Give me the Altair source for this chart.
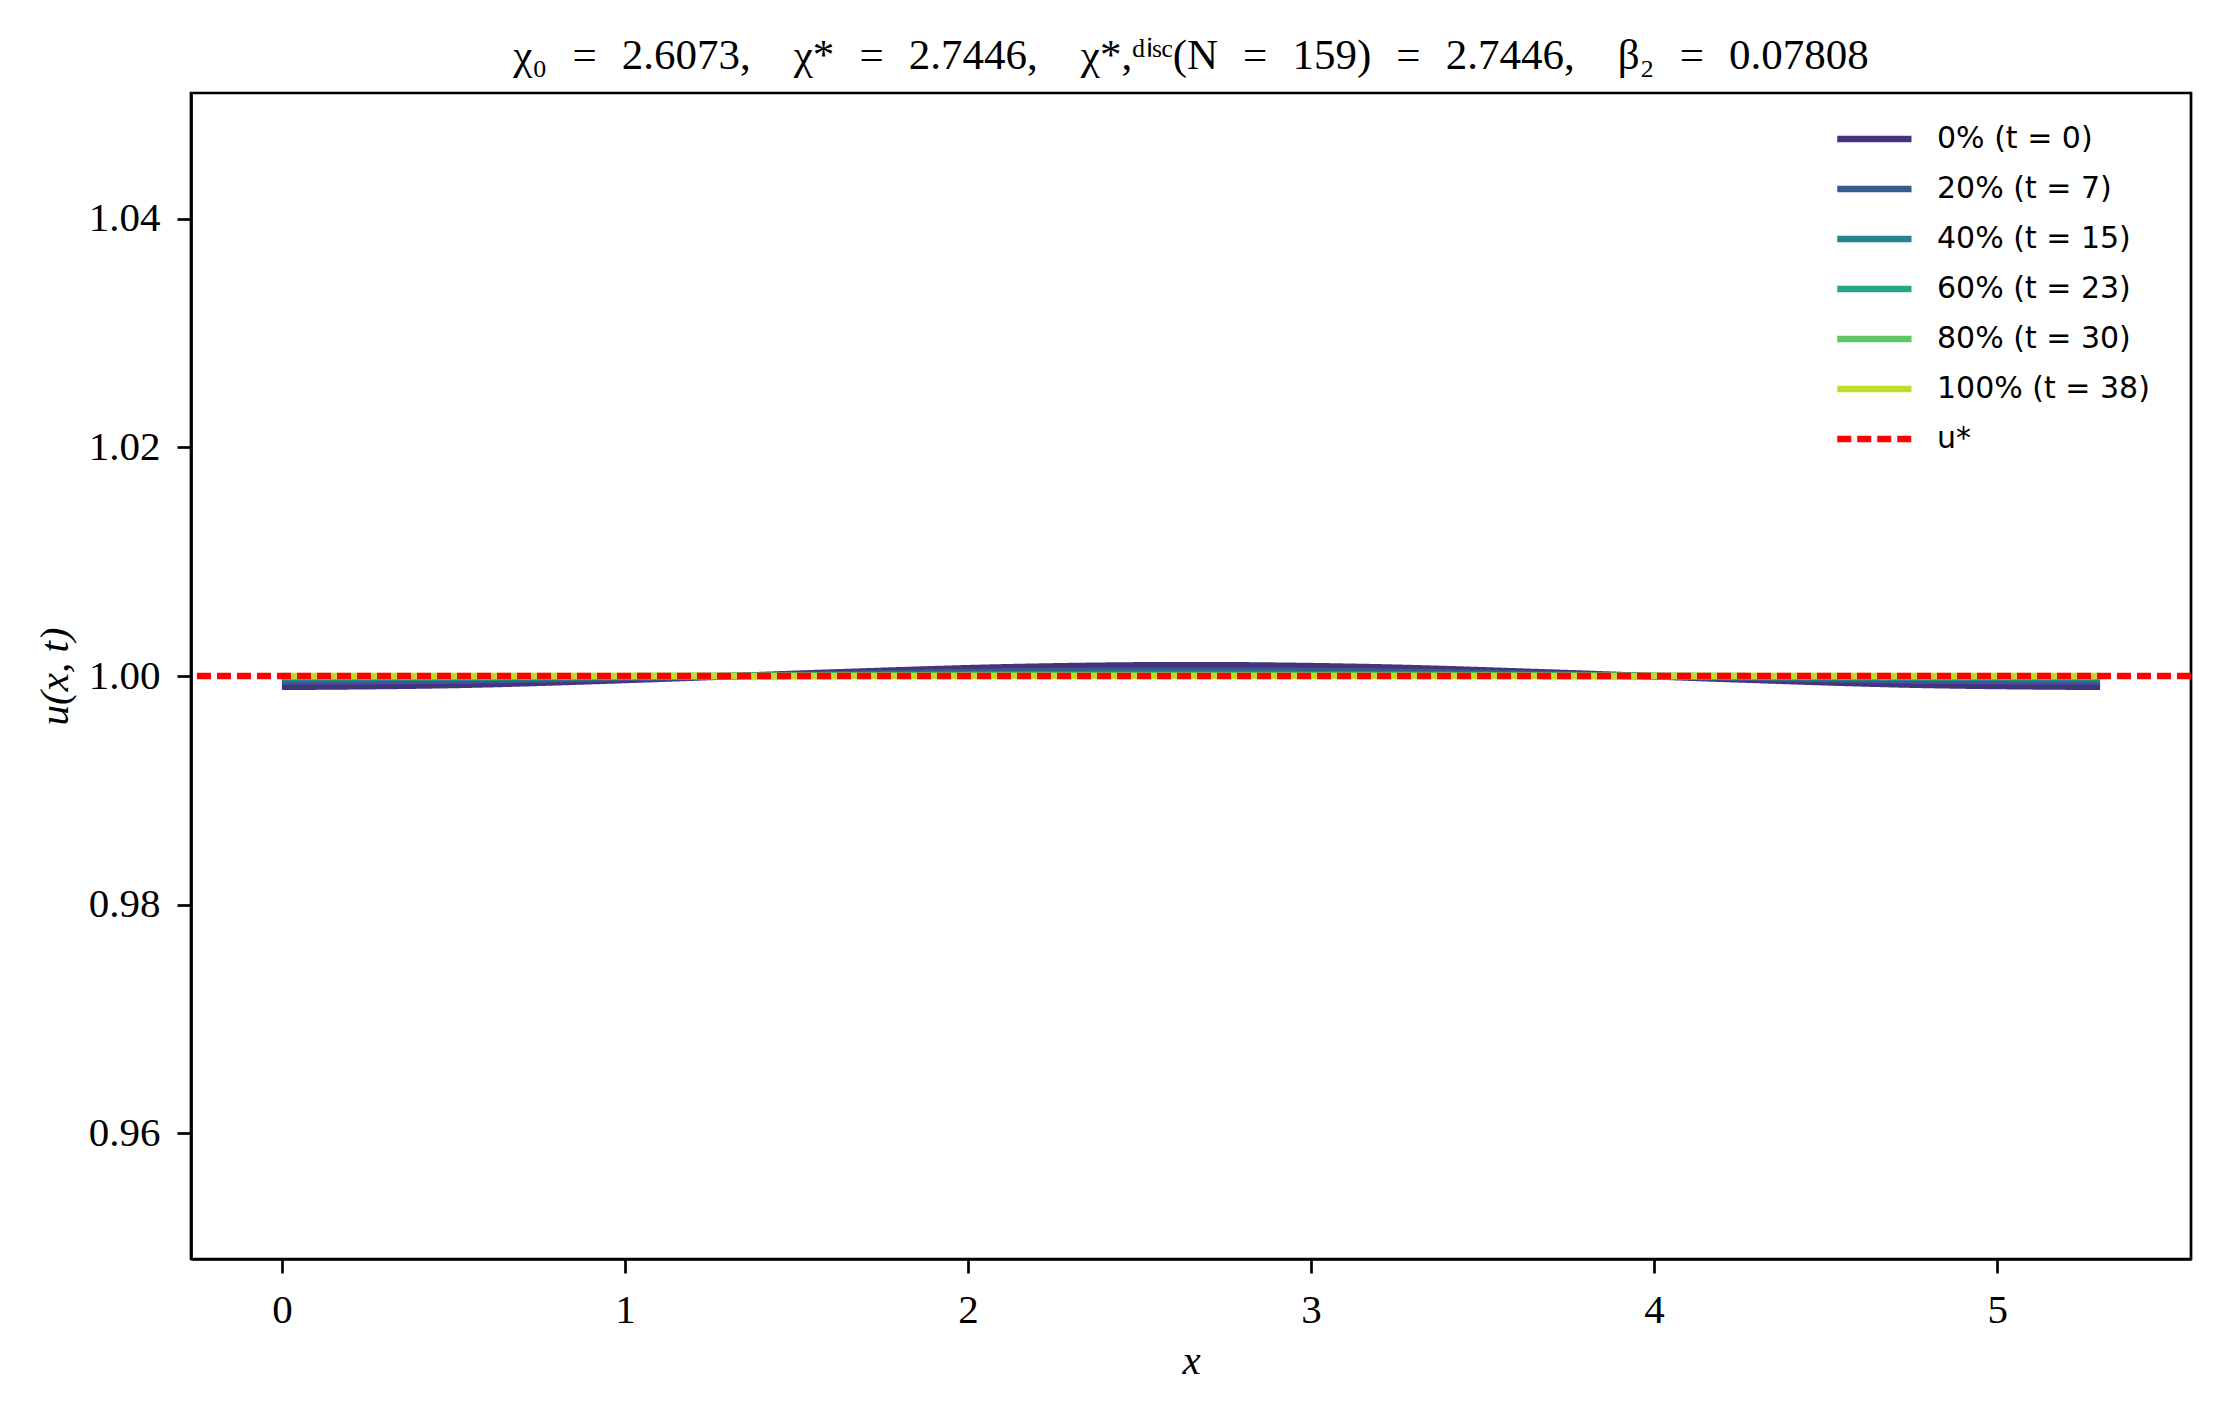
import altair as alt
import pandas as pd

# ---- data ----
x_vals = [0.0, 0.53, 1.06, 1.59, 2.12, 2.65, 3.18, 3.71, 4.24, 4.77, 5.3]

series_labels = ["0% (t = 0)", "20% (t = 7)", "40% (t = 15)",
                 "60% (t = 23)", "80% (t = 30)", "100% (t = 38)"]

u_0pct = [0.99905, 0.99923, 0.99971, 1.00029, 1.00077, 1.00095,
          1.00077, 1.00029, 0.99971, 0.99923, 0.99905]
u_20pct = [0.99952, 0.99961, 0.99985, 1.00015, 1.00039, 1.00048,
           1.00039, 1.00015, 0.99985, 0.99961, 0.99952]
u_40pct = [0.99980, 0.99984, 0.99994, 1.00006, 1.00016, 1.00020,
           1.00016, 1.00006, 0.99994, 0.99984, 0.99980]
u_60pct = [0.99993, 0.99994, 0.99998, 1.00002, 1.00006, 1.00007,
           1.00006, 1.00002, 0.99998, 0.99994, 0.99993]
u_80pct = [0.99998, 0.99998, 0.99999, 1.00001, 1.00002, 1.00002,
           1.00002, 1.00001, 0.99999, 0.99998, 0.99998]
u_100pct = [0.999995, 0.999996, 0.999998, 1.000002, 1.000004, 1.000005,
            1.000004, 1.000002, 0.999998, 0.999996, 0.999995]
series_values = [u_0pct, u_20pct, u_40pct, u_60pct, u_80pct, u_100pct]

ustar_label = "u*"
ustar_value = [1.0]

line_colors = ["#46337e", "#365c8d", "#25858e", "#22a884", "#5ec962", "#bddf26"]
ustar_color = "#ff0000"

y_ticks = [0.96, 0.98, 1.00, 1.02, 1.04]
x_ticks = [0, 1, 2, 3, 4, 5]

EQ = "\u2002\u200a"    # thick space around "=" as in TeX
GAP = "\u2003"         # space after the commas
title_text = (f"χ₀{EQ}={EQ}2.6073,{GAP}χ*{EQ}={EQ}2.7446,{GAP}"
              f"χ*,ᵈⁱˢᶜ(N{EQ}={EQ}159){EQ}={EQ}2.7446,{GAP}β₂{EQ}={EQ}0.07808")

# ---- scales shared by all layers ----
domain = series_labels + [ustar_label]
color_scale = alt.Scale(domain=domain, range=line_colors + [ustar_color])
dash_scale = alt.Scale(domain=domain, range=[[1, 0]] * 6 + [[14, 6]])
width_scale = alt.Scale(domain=domain, range=[6.5] * 6 + [3.8])
x_scale = alt.Scale(domain=[-0.265, 5.565], nice=False, zero=False)
y_scale = alt.Scale(domain=[0.949, 1.051], nice=False, zero=False)

legend = alt.Legend(
    title=None, orient="none", legendX=1662, legendY=15,
    symbolType="M-1.7,0H1", symbolSize=3025,
    labelFont="DejaVu Sans", labelFontSize=30, labelColor="black",
    labelOffset=22, labelLimit=500, rowPadding=4, padding=0,
)

x_enc = alt.X("x:Q", scale=x_scale,
              axis=alt.Axis(values=x_ticks, format="d", title="x",
                            titleFontStyle="italic", titleX=1000, titleY=102,
                            titleBaseline="middle"))
y_enc = alt.Y("u:Q", scale=y_scale,
              axis=alt.Axis(values=y_ticks, format=".2f", title="u(x, t)",
                            titleFontStyle="italic", titleX=-136, titleY=583,
                            titleBaseline="middle", titleAngle=270))

def style_enc():
    return dict(
        color=alt.Color("series:N", scale=color_scale, legend=legend),
        strokeDash=alt.StrokeDash("series:N", scale=dash_scale, legend=legend),
        strokeWidth=alt.StrokeWidth("series:N", scale=width_scale, legend=legend),
    )

layers = []
for lab, vals in zip(series_labels, series_values):
    df = pd.DataFrame({"x": x_vals, "u": vals, "series": [lab] * len(x_vals)})
    layers.append(
        alt.Chart(df).mark_line(interpolate="monotone").encode(
            x=x_enc, y=y_enc, **style_enc())
    )

rule_df = pd.DataFrame({"u": ustar_value, "series": [ustar_label]})
layers.append(
    alt.Chart(rule_df).mark_rule().encode(y=y_enc, **style_enc())
)

chart = alt.layer(*layers).properties(
    width=2000, height=1166,
    background="white",
    title=alt.TitleParams(title_text, font="Liberation Serif", fontSize=43,
                          fontWeight="normal", color="black", frame="group",
                          anchor="middle", baseline="middle", offset=0, dy=6),
    autosize=alt.AutoSizeParams(type="none"),
    padding={"left": 183, "top": 85, "right": 21, "bottom": 140},
).configure_view(
    stroke="black", strokeWidth=2.7
).configure_axis(
    domainColor="black", domainWidth=2.7, tickColor="black", tickWidth=2.7,
    tickSize=14, labelFont="Liberation Serif", labelFontSize=41,
    labelColor="black", labelPadding=17, grid=False,
    titleFont="Liberation Serif", titleFontSize=41, titleFontWeight="normal",
    titleColor="black",
)

chart.save("out.html", embed_options={"renderer": "svg", "actions": False})
